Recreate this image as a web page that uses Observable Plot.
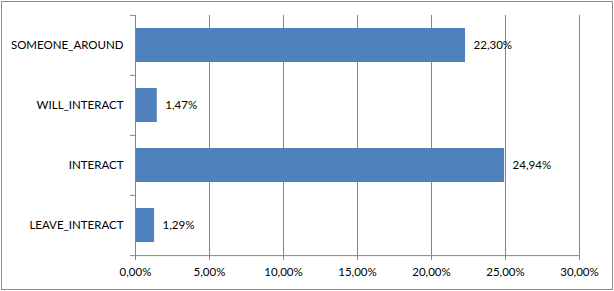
<!DOCTYPE html>
<html><head><meta charset="utf-8">
<script src="https://cdn.jsdelivr.net/npm/d3@7"></script>
<script src="https://cdn.jsdelivr.net/npm/@observablehq/plot@0.6"></script>
<style>
html,body{margin:0;padding:0;background:#fff;}
#chart svg{display:block;outline:1px solid #8c8c8c;outline-offset:-2px;}
</style>
</head><body><div id="chart"></div>
<script>
const categories = ["SOMEONE_AROUND", "WILL_INTERACT", "INTERACT", "LEAVE_INTERACT"];
const values = [22.30, 1.47, 24.94, 1.29];
const xTicks = [0, 5, 10, 15, 20, 25, 30];

const data = categories.map((c, i) => ({cat: c, v: values[i]}));
const fmt = d => d.toFixed(2).replace(".", ",") + "%";

const W = 614, H = 291, mt = 15, mb = 35, ml = 135, mr = 35;
const step = (H - mt - mb) / categories.length;
const grey = "#868686";

const chart = Plot.plot({
  width: W, height: H,
  marginTop: mt, marginBottom: mb, marginLeft: ml, marginRight: mr,
  style: {fontFamily: "Lato, 'Open Sans', sans-serif", fontSize: "11.5px", color: "#000", background: "#fff"},
  x: {domain: [0, 30], ticks: xTicks, tickFormat: fmt},
  y: {domain: categories, paddingInner: 0.43, paddingOuter: 0.215},
  marks: [
    Plot.ruleX(xTicks, {stroke: grey, strokeWidth: 1}),
    Plot.barX(data, {y: "cat", x: "v", fill: "#4F81BD"}),
    Plot.text(data, {y: "cat", x: "v", text: d => fmt(d.v), textAnchor: "start", dx: 8, fill: "#000"}),
    Plot.axisX({ticks: xTicks, tickFormat: fmt, tickSize: 4, tickPadding: 7, stroke: grey, strokeOpacity: 1, label: null, fill: "#000"}),
    Plot.axisY({tickSize: 0, tickPadding: 12, label: null, fill: "#000"}),
    Plot.axisY({tickSize: 5, text: null, label: null, dy: -step / 2, stroke: grey, strokeOpacity: 1}),
    Plot.axisY([categories[categories.length - 1]], {tickSize: 5, text: null, label: null, dy: step / 2, stroke: grey, strokeOpacity: 1}),
    Plot.ruleY([categories[categories.length - 1]], {dy: step / 2, stroke: grey}),
    Plot.ruleX([0], {stroke: grey})
  ]
});
document.getElementById("chart").appendChild(chart);
</script>
</body></html>
